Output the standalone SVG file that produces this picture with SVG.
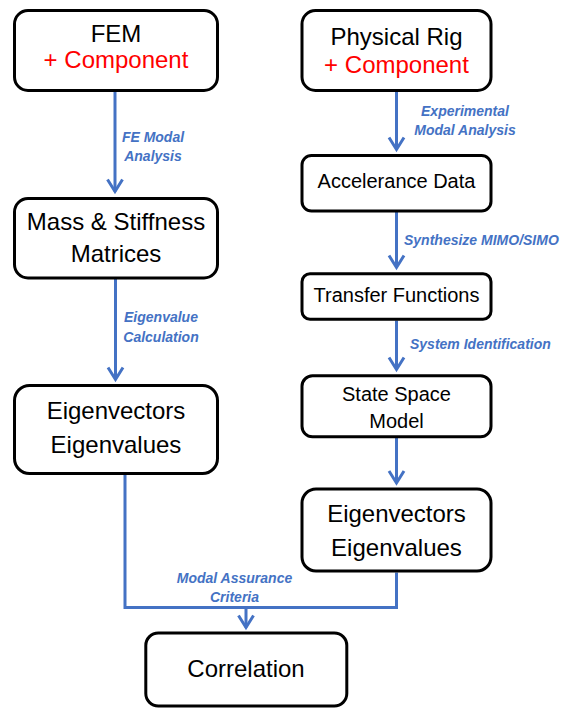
<svg xmlns="http://www.w3.org/2000/svg" width="563" height="709" viewBox="0 0 563 709">
<style>
.box{fill:#fff;stroke:#000;stroke-width:3}
.t24{font-family:"Liberation Sans",Arial,sans-serif;font-size:24px;fill:#000;text-anchor:middle}
.t20{font-family:"Liberation Sans",Arial,sans-serif;font-size:20px;fill:#000;text-anchor:middle}
.red{fill:#FF0000}
.lbl{font-family:"Liberation Sans",Arial,sans-serif;font-size:14px;font-weight:bold;font-style:italic;fill:#4472C4}
.mid{text-anchor:middle}
.con{fill:none;stroke:#4472C4;stroke-width:3}
</style>
<defs>
<marker id="arr" markerUnits="userSpaceOnUse" markerWidth="24" markerHeight="24" viewBox="-16 -12 24 24" refX="0" refY="0" orient="auto" overflow="visible">
<path d="M-12,-7.5 L0,0 L-12,7.5" fill="none" stroke="#4472C4" stroke-width="3"/>
</marker>
</defs>
<rect width="563" height="709" fill="#fff"/>
<g id="connectors">
<path class="con" d="M115 91.5 V191.5" marker-end="url(#arr)"/>
<path class="con" d="M115.5 279 V379.5" marker-end="url(#arr)"/>
<path class="con" d="M396.5 91.5 V149.5" marker-end="url(#arr)"/>
<path class="con" d="M396.5 212 V267.5" marker-end="url(#arr)"/>
<path class="con" d="M396.5 320.5 V369.5" marker-end="url(#arr)"/>
<path class="con" d="M396.5 438 V483" marker-end="url(#arr)"/>
<path class="con" d="M125 475 V607.5 H396.5 V572.5"/>
<path class="con" d="M246 607.5 V627.5" marker-end="url(#arr)"/>
<text class="lbl mid" x="153" y="141.5">FE Modal</text>
<text class="lbl mid" x="153" y="160.5">Analysis</text>
<text class="lbl mid" x="161" y="322.3">Eigenvalue</text>
<text class="lbl mid" x="161" y="341.7">Calculation</text>
<text class="lbl mid" x="465" y="116">Experimental</text>
<text class="lbl mid" x="465" y="135.3">Modal Analysis</text>
<text class="lbl" x="404" y="244.5">Synthesize MIMO/SIMO</text>
<text class="lbl" x="410" y="349.3">System Identification</text>
<text class="lbl mid" x="234.5" y="583.3">Modal Assurance</text>
<text class="lbl mid" x="234.5" y="601.7">Criteria</text>
</g>
<g id="fem">
<rect class="box" x="14.5" y="10.5" width="203" height="80" rx="13.5"/>
<text class="t24" x="116" y="41.7">FEM</text>
<text class="t24 red" x="116" y="68.3">+ Component</text>
</g>
<g id="rig">
<rect class="box" x="302" y="10.5" width="189" height="80" rx="13.5"/>
<text class="t24" x="396.5" y="45">Physical Rig</text>
<text class="t24 red" x="396.5" y="73.3">+ Component</text>
</g>
<g id="mass">
<rect class="box" x="14.5" y="198.5" width="203" height="79.5" rx="13.5"/>
<text class="t24" x="116" y="230">Mass &amp; Stiffness</text>
<text class="t24" x="116" y="262.3">Matrices</text>
</g>
<g id="eigen-fem">
<rect class="box" x="14.5" y="385.5" width="203" height="88" rx="15"/>
<text class="t24" x="116" y="419.3">Eigenvectors</text>
<text class="t24" x="116" y="452.7">Eigenvalues</text>
</g>
<g id="accel">
<rect class="box" x="302" y="155.5" width="189" height="55.5" rx="9.5"/>
<text class="t20" x="396.5" y="188.3">Accelerance Data</text>
</g>
<g id="transfer">
<rect class="box" x="302" y="273.8" width="189" height="45.4" rx="8"/>
<text class="t20" x="396.5" y="302.3">Transfer Functions</text>
</g>
<g id="statespace">
<rect class="box" x="302" y="375.8" width="189" height="61" rx="10.5"/>
<text class="t20" x="396.5" y="400.7">State Space</text>
<text class="t20" x="396.5" y="428.3">Model</text>
</g>
<g id="eigen-rig">
<rect class="box" x="302" y="489" width="189" height="82" rx="14"/>
<text class="t24" x="396.5" y="522.3">Eigenvectors</text>
<text class="t24" x="396.5" y="556">Eigenvalues</text>
</g>
<g id="correlation">
<rect class="box" x="145.8" y="633" width="201" height="73" rx="12.5"/>
<text class="t24" x="246" y="677.3">Correlation</text>
</g>
</svg>
